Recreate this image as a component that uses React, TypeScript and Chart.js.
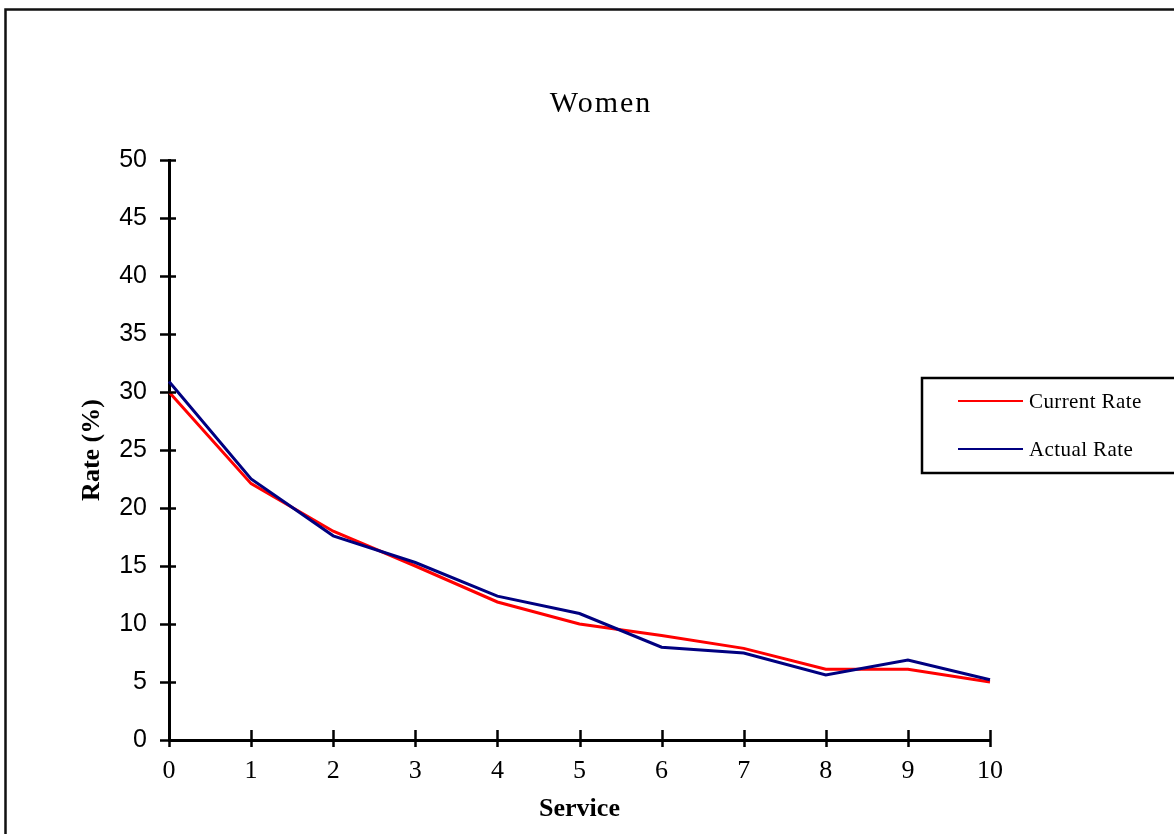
import React, { useEffect, useRef } from "react";
import { Chart, registerables } from "chart.js";

Chart.register(...registerables);

const serviceYears = ["0", "1", "2", "3", "4", "5", "6", "7", "8", "9", "10"];
const currentRate = [30, 22.1, 18.0, 15.0, 11.9, 10.0, 9.0, 7.9, 6.1, 6.1, 5.0];
const actualRate = [30.9, 22.5, 17.6, 15.3, 12.4, 10.9, 8.0, 7.5, 5.6, 6.9, 5.2];
const yTicks = [0, 5, 10, 15, 20, 25, 30, 35, 40, 45, 50];
const chartTitle = "Women";
const seriesNames = ["Current Rate", "Actual Rate"];
const seriesColors = ["#FF0000", "#000080"];

const decorPlugin = {
  id: "decor",
  beforeDraw(chart: any) {
    const ctx = chart.ctx;
    ctx.save();
    ctx.fillStyle = "#fff";
    ctx.fillRect(0, 0, chart.width, chart.height);
    ctx.strokeStyle = "#111";
    ctx.lineWidth = 2.5;
    ctx.strokeRect(5.5, 9.5, chart.width + 20, chart.height + 20);
    ctx.restore();
  },
  afterDraw(chart: any) {
    const ctx = chart.ctx;
    const area = chart.chartArea;
    const xs = chart.scales.x;
    const ys = chart.scales.y;
    ctx.save();
    ctx.strokeStyle = "#000";
    ctx.lineWidth = 2.5;
    ctx.beginPath();
    yTicks.forEach((v) => {
      const y = Math.round(ys.getPixelForValue(v)) + 0.5;
      ctx.moveTo(area.left - 9, y);
      ctx.lineTo(area.left + 7, y);
    });
    serviceYears.forEach((_, i) => {
      const x = Math.round(xs.getPixelForTick(i)) + 0.5;
      ctx.moveTo(x, area.bottom - 10);
      ctx.lineTo(x, area.bottom + 7);
    });
    ctx.stroke();

    // title
    ctx.fillStyle = "#000";
    ctx.font = "30px 'Liberation Serif'";
    ctx.textAlign = "center";
    ctx.textBaseline = "alphabetic";
    try { (ctx as any).letterSpacing = "2px"; } catch (e) {}
    ctx.fillText(chartTitle, 601, 112);

    // legend
    ctx.lineWidth = 2.5;
    ctx.strokeStyle = "#000";
    ctx.strokeRect(922, 378, 300, 95);
    ctx.font = "21px 'Liberation Serif'";
    try { (ctx as any).letterSpacing = "0.4px"; } catch (e) {}
    ctx.textAlign = "left";
    ctx.textBaseline = "middle";
    const rows = [401, 449];
    seriesNames.forEach((name, i) => {
      ctx.strokeStyle = seriesColors[i];
      ctx.lineWidth = 2;
      ctx.beginPath();
      ctx.moveTo(958, rows[i]);
      ctx.lineTo(1023, rows[i]);
      ctx.stroke();
      ctx.fillStyle = "#000";
      ctx.fillText(name, 1029, rows[i] + 1);
    });
    try { (ctx as any).letterSpacing = "0px"; } catch (e) {}
    ctx.restore();
  },
};

export default function App() {
  const ref = useRef<HTMLCanvasElement>(null);
  useEffect(() => {
    if (!ref.current) return;
    const chart = new Chart(ref.current, {
      type: "line",
      data: {
        labels: serviceYears,
        datasets: [
          {
            label: seriesNames[0],
            data: currentRate,
            borderColor: seriesColors[0],
            backgroundColor: seriesColors[0],
            borderWidth: 3,
            pointRadius: 0,
            tension: 0,
            order: 1,
          },
          {
            label: seriesNames[1],
            data: actualRate,
            borderColor: seriesColors[1],
            backgroundColor: seriesColors[1],
            borderWidth: 3,
            pointRadius: 0,
            tension: 0,
            order: 0,
          },
        ],
      },
      options: {
        animation: false,
        responsive: false,
        maintainAspectRatio: false,
        layout: { padding: { left: 0, top: 160, right: 184, bottom: 0 } },
        plugins: {
          legend: { display: false },
          title: { display: false },
          tooltip: { enabled: false },
        },
        scales: {
          x: {
            type: "category",
            offset: false,
            grid: { display: true, drawOnChartArea: false, drawTicks: false },
            border: { display: true, color: "#000", width: 3 },
            ticks: {
              color: "#000",
              font: { family: "'Liberation Serif'", size: 26 },
              padding: 16,
              maxRotation: 0,
              autoSkip: false,
            },
            title: {
              display: true,
              text: "Service",
              color: "#000",
              font: { family: "'Liberation Serif'", size: 26, weight: "bold" },
              padding: { top: 0, bottom: 9 },
            },
            afterFit(scale: any) {
              scale.height = 94;
            },
          },
          y: {
            type: "linear",
            min: 0,
            max: 50,
            grid: { display: true, drawOnChartArea: false, drawTicks: false },
            border: { display: true, color: "#000", width: 3 },
            ticks: {
              stepSize: 5,
              color: "#000",
              font: { family: "'Liberation Sans'", size: 25 },
              padding: 22,
            },
            title: {
              display: true,
              text: "Rate (%)",
              color: "#000",
              font: { family: "'Liberation Serif'", size: 26, weight: "bold" },
              padding: { top: 77, bottom: 0 },
            },
            afterFit(scale: any) {
              scale.width = 169;
            },
          },
        },
      },
      plugins: [decorPlugin],
    });
    return () => chart.destroy();
  }, []);
  return (
    <div style={{ position: "absolute", left: 0, top: 0, width: 1174, height: 834 }}>
      <canvas ref={ref} width={1174} height={834} style={{ display: "block", width: 1174, height: 834 }} />
    </div>
  );
}
